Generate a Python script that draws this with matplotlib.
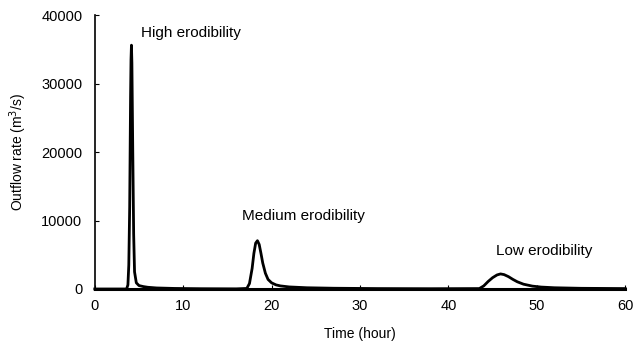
import matplotlib.pyplot as plt

plt.rcParams['font.family'] = ['Liberation Sans', 'DejaVu Sans']

# outflow hydrograph for the three erodibility cases (hours, m3/s)
time_h = [0, 3.6, 3.75, 3.85, 3.95, 4.0, 4.05, 4.1, 4.15, 4.2, 4.3, 4.4, 4.5, 4.7, 5.0, 5.5, 6.0, 7.0, 9.0, 12.0,
          16.0, 17.2, 17.5, 17.8, 18.0, 18.2, 18.4, 18.6, 18.8, 19.0, 19.3, 19.6, 20.0, 20.5, 21.0, 22.0, 24.0, 27.0,
          32.0, 38.0, 43.5, 44.0, 44.5, 45.0, 45.5, 45.9, 46.3, 46.8, 47.3, 47.8, 48.5, 49.5, 50.5, 52.0, 55.0, 60.0]
outflow = [0, 0, 600, 3500, 12000, 20000, 28000, 33500, 35600, 33000, 20000, 8000, 2500, 900, 500, 350, 250, 150, 80, 40,
           20, 80, 800, 3000, 5200, 6700, 7050, 6500, 5200, 3800, 2300, 1400, 900, 600, 450, 300, 180, 110,
           60, 40, 60, 450, 1100, 1650, 2050, 2200, 2100, 1800, 1400, 1050, 700, 420, 280, 180, 100, 60]

labels = ['High erodibility', 'Medium erodibility', 'Low erodibility']
label_t = [5.2, 16.6, 45.4]
label_q = [37400, 10650, 5550]

fig = plt.figure(figsize=(6.36, 3.42), dpi=100)
ax = fig.add_axes([0.149, 0.155, 0.834, 0.801])
ax.plot(time_h, outflow, color='black', lw=2.0, clip_on=False)

for txt, t, q in zip(labels, label_t, label_q):
    ax.text(t, q, txt, fontsize=11, va='center', ha='left')

ax.set_xlim(0, 60)
ax.set_ylim(0, 40000)
ax.set_xticks(range(0, 61, 10))
ax.set_yticks(range(0, 40001, 10000))
ax.tick_params(direction='in', length=3, width=0.8, labelsize=10.5)
ax.tick_params(axis='x', pad=7)
ax.tick_params(axis='y', pad=9)
ax.spines['top'].set_visible(False)
ax.spines['right'].set_visible(False)
ax.spines['left'].set_linewidth(1.2)
ax.spines['bottom'].set_linewidth(2.2)
ax.set_xlabel('Time (hour)', fontsize=10, labelpad=10)
ax.set_ylabel('Outflow rate (m$^3$/s)', fontsize=10, labelpad=9)

fig.savefig('out.png', dpi=100)
